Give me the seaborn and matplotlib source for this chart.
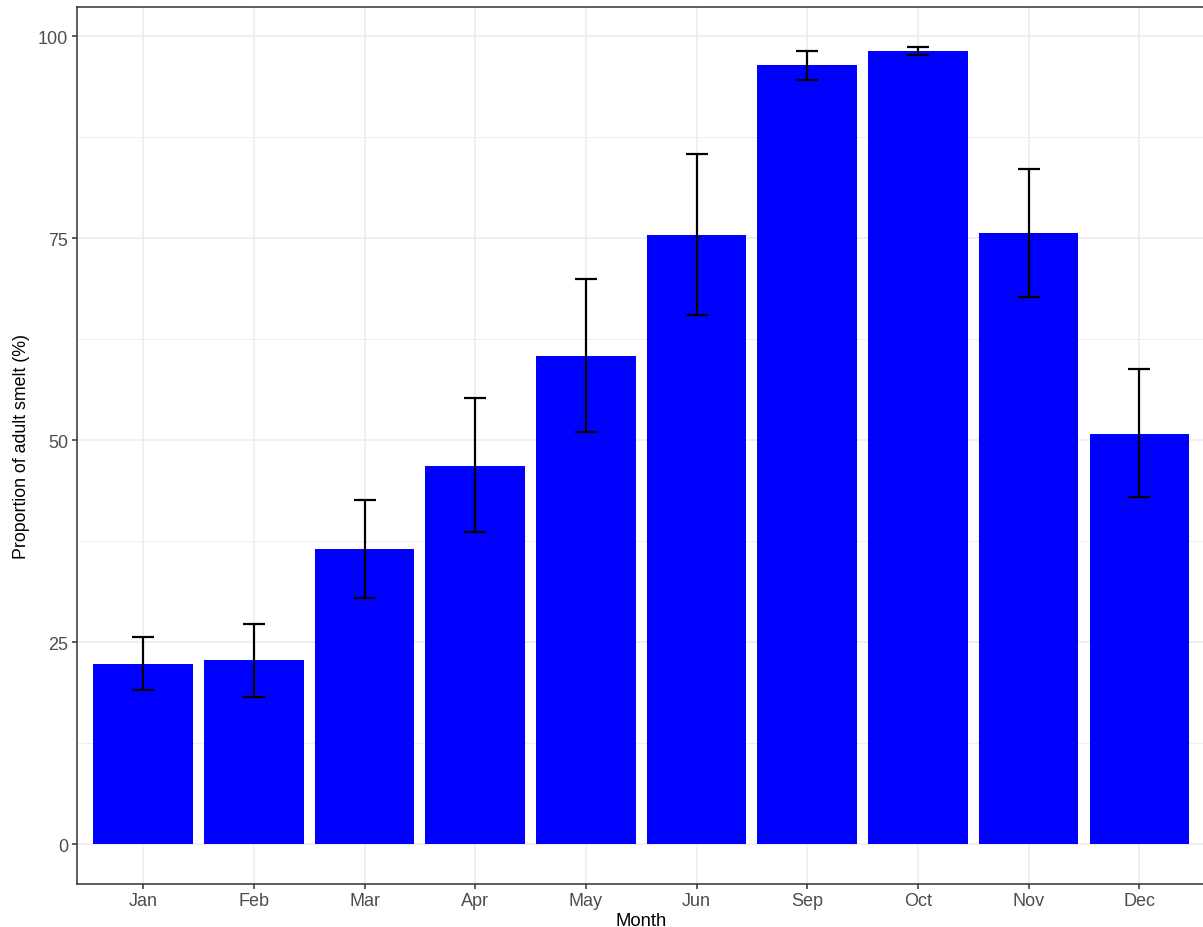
import matplotlib
matplotlib.use("Agg")
import matplotlib.pyplot as plt
import seaborn as sns
import pandas as pd
import numpy as np

# Monthly proportion of adult smelt with lower/upper error limits
months = ["Jan", "Feb", "Mar", "Apr", "May", "Jun", "Sep", "Oct", "Nov", "Dec"]
proportion = [22.3, 22.75, 36.5, 46.8, 60.4, 75.4, 96.4, 98.2, 75.6, 50.8]
lower = [19.1, 18.25, 30.5, 38.6, 51.0, 65.5, 94.6, 97.7, 67.7, 43.0]
upper = [25.6, 27.3, 42.6, 55.2, 70.0, 85.5, 98.2, 98.7, 83.6, 58.8]
y_ticks = [0, 25, 50, 75, 100]

df = pd.DataFrame({"Month": months, "Proportion": proportion,
                   "lower": lower, "upper": upper})

sns.set_theme(style="white")
plt.rcParams["font.family"] = ["Liberation Sans", "DejaVu Sans"]

W, H = 1203, 928
fig = plt.figure(figsize=(W / 100, H / 100), dpi=100)
ax = fig.add_axes([76.7 / W, (H - 885) / H, 1129.1 / W, 876.7 / H])

# grid (major + minor), drawn beneath the bars
ax.set_axisbelow(True)
for v in y_ticks:
    ax.axhline(v, color="#EBEBEB", lw=1.1, zorder=0)
for v in [12.5, 37.5, 62.5, 87.5]:
    ax.axhline(v, color="#EBEBEB", lw=0.6, zorder=0)
for i in range(len(months)):
    ax.axvline(i, color="#EBEBEB", lw=1.1, zorder=0)

sns.barplot(data=df, x="Month", y="Proportion", color="#0000FF",
            saturation=1, width=0.9, errorbar=None, linewidth=0, ax=ax,
            zorder=2)

xs = np.arange(len(months))
mid = np.array(proportion)
ax.errorbar(xs, mid,
            yerr=[mid - np.array(lower), np.array(upper) - mid],
            fmt="none", ecolor="black", elinewidth=1.6, capsize=7.8,
            capthick=1.6, zorder=3)

ax.set_xlim(-0.6, len(months) - 0.4)
ax.set_ylim(-4.93, 103.6)
ax.set_yticks(y_ticks)
ax.set_yticklabels([str(v) for v in y_ticks])

for s in ax.spines.values():
    s.set_visible(True)
    s.set_color("#333333")
    s.set_linewidth(1.1)

ax.tick_params(axis="both", which="major", length=3.5, width=1.1,
               color="#333333", labelcolor="#4D4D4D", labelsize=13,
               pad=2.5, left=True, bottom=True)

ax.set_xlabel("Month", fontsize=13.3, color="black", labelpad=2)
ax.set_ylabel("Proportion of adult smelt (%)", fontsize=12.8, color="black",
              labelpad=6)

fig.savefig("out.png", dpi=100)
